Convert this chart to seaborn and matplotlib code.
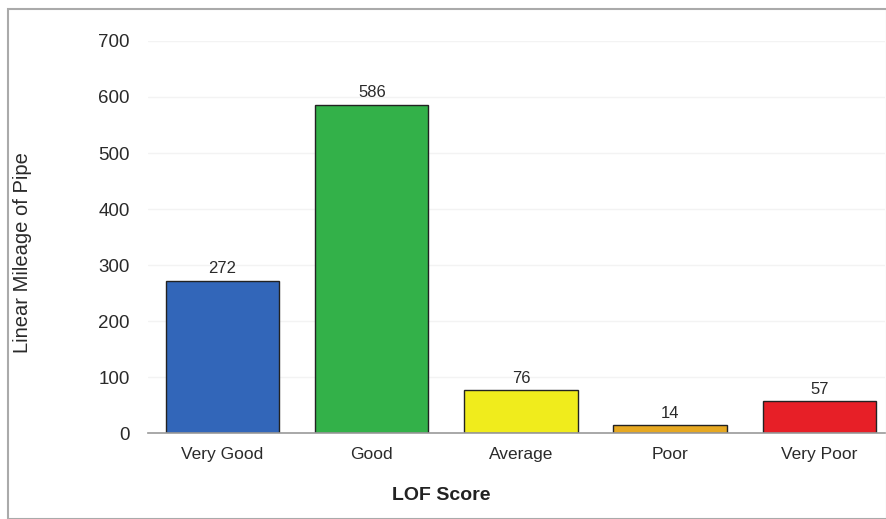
import matplotlib
matplotlib.use("Agg")
import matplotlib.pyplot as plt
import seaborn as sns
import pandas as pd
from matplotlib.patches import Rectangle

categories = ["Very Good", "Good", "Average", "Poor", "Very Poor"]
values = [272, 586, 76, 14, 57]
colors = ["#3266b9", "#33b149", "#f0ec1c", "#e6a821", "#e71f27"]
yticks = [0, 100, 200, 300, 400, 500, 600, 700]

sns.set_theme(style="white")
plt.rcParams["font.family"] = ["Liberation Sans", "DejaVu Sans"]

df = pd.DataFrame({"cat": categories, "val": values})

W, H = 887, 519
fig = plt.figure(figsize=(W / 100, H / 100), dpi=100)
ax = fig.add_axes([148 / W, (H - 433) / H, (885 - 148) / W, (433 - 41) / H])

sns.barplot(data=df, x="cat", y="val", hue="cat", palette=colors, legend=False,
            width=0.76, edgecolor="#222222", linewidth=1.0, saturation=1, ax=ax)

ax.set_ylim(0, 700)
ax.set_xlim(-0.5, 4.44)
ax.set_yticks(yticks)
ax.set_yticklabels([str(t) for t in yticks], fontsize=13.5, color="#2a2a2a")
ax.tick_params(axis="y", length=0, pad=13)
ax.tick_params(axis="x", length=0, pad=10, labelsize=12.5, labelcolor="#2a2a2a")
for t in yticks[1:]:
    ax.axhline(t, color="#f3f3f3", lw=1.0, zorder=0)
for s in ["top", "right", "left"]:
    ax.spines[s].set_visible(False)
ax.spines["bottom"].set_color("#999999")
ax.spines["bottom"].set_linewidth(1.2)

for i, v in enumerate(values):
    ax.text(i, v + 8, str(v), ha="center", va="bottom", fontsize=12, color="#2a2a2a")

ax.set_xlabel("")
ax.set_ylabel("")
fig.text(441 / W, (H - 495) / H, "LOF Score", ha="center", va="center",
         fontsize=14, fontweight="bold", color="#222222")
fig.text(23 / W, (H - 253) / H, "Linear Mileage of Pipe", ha="center", va="center",
         rotation=90, fontsize=14.5, color="#2a2a2a")

fig.patches.append(Rectangle((8 / W, 0), (W - 8) / W, (H - 9) / H, transform=fig.transFigure,
                             fill=False, edgecolor="#aaaaaa", lw=1.5))

fig.savefig("out.png", dpi=100)
